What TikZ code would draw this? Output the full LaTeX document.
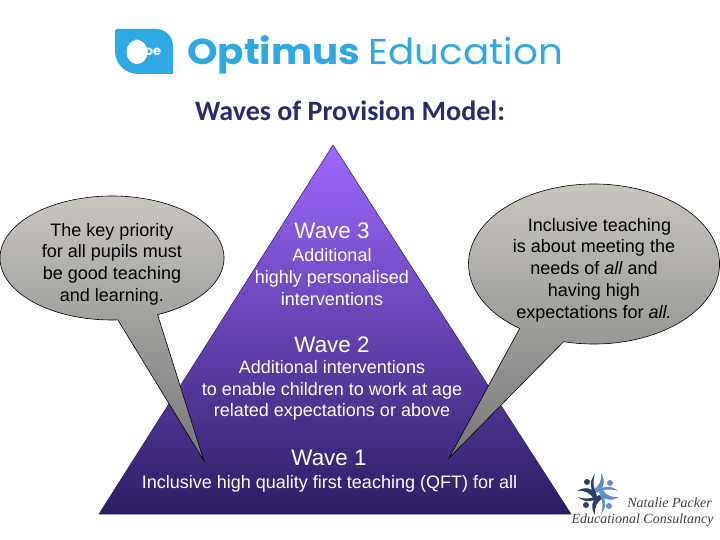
\documentclass[tikz,border=0pt]{standalone}
\usetikzlibrary{calc}
\usepackage{fontspec}
\setmainfont{Liberation Sans}
\newfontfamily\titlefont{Carlito}
\newfontfamily\logofont{Poppins}
\newfontfamily\sigfont{Liberation Serif}
\definecolor{logoblue}{HTML}{2FA9E3}
\definecolor{titleblue}{HTML}{2A2A6E}
\definecolor{sigdark}{HTML}{2C3E66}
\definecolor{sigblue}{HTML}{5F8FC4}
\definecolor{bubbletop}{HTML}{CBC8C2}
\definecolor{bubblemid}{HTML}{B0AEA8}
\definecolor{bubblebot}{HTML}{777777}
\definecolor{pyrtop}{HTML}{9E69FF}
\definecolor{pyrbot}{HTML}{2C1E64}
\tikzset{
 wavehead/.style={text=white,font=\fontsize{22.4}{26}\selectfont,inner sep=0pt},
 wavebody/.style={text=white,font=\fontsize{18}{21.6}\selectfont,align=center,inner sep=0pt},
 bubbletext/.style={text=black,font=\fontsize{18}{21.7}\selectfont,align=center,inner sep=0pt},
 bubble/.style={draw=black,line width=0.6pt,top color=bubbletop,middle color=bubblemid,bottom color=bubblebot},
 sigtext/.style={inner sep=0pt,text=black!75,font=\sigfont\itshape\fontsize{14}{15}\selectfont},
 logotext/.style={inner sep=0pt,anchor=base west,text=logoblue,transform shape},
}
\begin{document}
\begin{tikzpicture}[x=1pt,y=1pt]
\useasboundingbox (0,0) rectangle (720,-540);
\fill[white] (0,0) rectangle (720,-540);
% logo
\fill[logoblue] (117,-29) -- (156,-29) to[out=0,in=90] (173,-46) -- (173,-74) -- (138,-74) to[out=180,in=-90] (115,-51) -- (115,-31) to[out=90,in=180] cycle;
\fill[white] (137,-52) circle[x radius=10.5,y radius=12];
\draw[white,line width=1pt] (135,-40) to[out=10,in=140] (146,-48);
\node[inner sep=0pt,text=white,font=\logofont\bfseries\fontsize{13}{13}\selectfont] (oe) at (153,-51.5) {oe};
\begin{scope}[xscale=1.08]
\node[logotext,font=\logofont\bfseries\fontsize{36}{36}\selectfont] (opt) at (173,-65) {Optimus};
\node[logotext,font=\logofont\fontsize{36}{36}\selectfont] (edu) at (341,-65) {Education};
\end{scope}
\node[inner sep=0pt,text=titleblue,font=\titlefont\bfseries\fontsize{28}{30}\selectfont] (title) at (350,-111) {Waves of Provision Model:};
% pyramid
\shade[top color=pyrtop,bottom color=pyrbot,draw=pyrbot,line width=0.5pt]
 (333,-145) -- (571,-514) -- (99,-514) -- cycle;
% bubbles
\coordinate (lc) at (112,-258);
\coordinate (rc) at (594,-264);
\coordinate (ltip) at (204,-461);
\coordinate (rtip) at (449,-458);
\shade[bubble] (ltip) -- ($(lc)+(-66:112 and 62)$) arc[start angle=-66,end angle=273,x radius=112,y radius=62] -- cycle;
\shade[bubble] (rtip) -- ($(rc)+(-104:125.5 and 80)$) arc[start angle=-104,end angle=233.7,x radius=125.5,y radius=80] -- cycle;
% text
\node[bubbletext] (ltext) at (112,-264) {The key priority\\for all pupils must\\be good teaching\\and learning.};
\node[bubbletext] (rtext) at (594,-270) {\hspace*{11pt}Inclusive teaching\\is about meeting the\\needs of \textit{all} and\\having high\\expectations for \textit{all.}};
\node[wavehead] (w3) at (332,-231) {Wave 3};
\node[wavebody] (w3b) at (332,-277) {Additional\\highly personalised\\interventions};
\node[wavehead] (w2) at (332,-345) {Wave 2};
\node[wavebody] (w2b) at (332,-390.5) {Additional interventions\\to enable children to work at age\\related expectations or above};
\node[wavehead] (w1) at (329,-458) {Wave 1};
\node[wavebody] (w1b) at (329.5,-484) {Inclusive high quality first teaching (QFT) for all};
% signature logo
\begin{scope}[shift={(598,-494)}]
 \foreach \a/\c in {0/sigblue,90/sigdark,180/sigdark,270/sigblue}{
  \begin{scope}[rotate=\a]
   \fill[\c] (-1,1) .. controls (6,6) and (8,13) .. (3,21) .. controls (4,13) and (1,8) .. (-5,4) -- cycle;
   \fill[\c] (1,2) .. controls (6,4) and (11,6) .. (20,3) .. controls (13,9) and (6,8) .. (-1,4) -- cycle;
   \fill[\c] (12,11) circle[radius=3];
  \end{scope}
 }
\end{scope}
\node[sigtext] (sig1) at (669.5,-503) {Natalie Packer};
\node[sigtext] (sig2) at (642.5,-520) {Educational Consultancy};
\end{tikzpicture}
\end{document}
